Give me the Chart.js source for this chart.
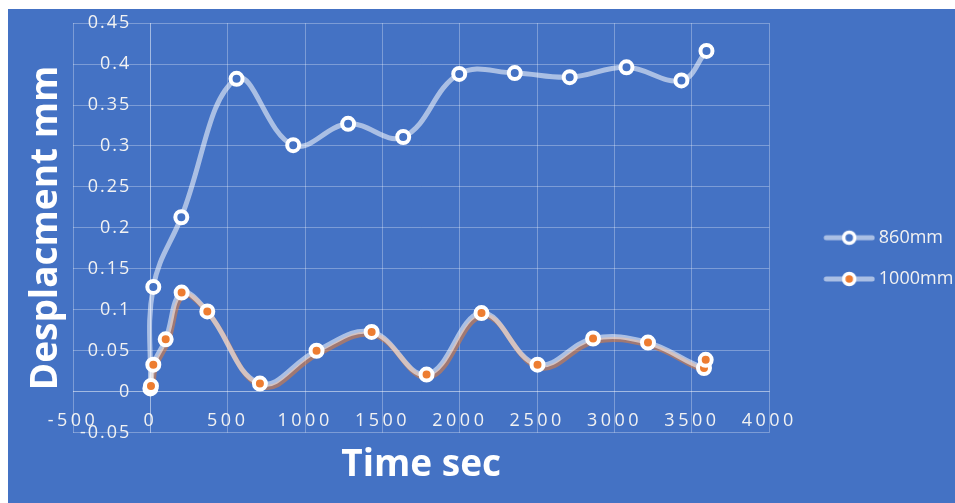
<!DOCTYPE html>
<html>
<head>
<meta charset="utf-8">
<title>Desplacment vs time</title>
<script src="https://cdn.jsdelivr.net/npm/chart.js@4/dist/chart.umd.min.js"></script>
<style>
  html, body { margin: 0; padding: 0; background: #ffffff; }
  #panel { position: absolute; left: 8px; top: 9px; width: 947px; height: 494px; background: #4472C4; }
  #panel canvas { display: block; }
</style>
</head>
<body>
<div id="panel"><canvas id="chart" width="947" height="494"></canvas></div>
<script>
// Series 860mm: time (s) and displacement (mm)
const time860 = [0, 19, 200, 557, 923, 1278, 1634, 1996, 2355, 2710, 3077, 3432, 3594];
const disp860 = [0.004, 0.128, 0.213, 0.382, 0.301, 0.327, 0.311, 0.388, 0.389, 0.384, 0.396, 0.380, 0.416];

// Series 1000mm: time (s) and displacement (mm)
const time1000 = [4, 19, 99, 202, 368, 708, 1074, 1430, 1785, 2140, 2502, 2861, 3216, 3578, 3589];
const disp1000 = [0.007, 0.033, 0.064, 0.121, 0.098, 0.010, 0.050, 0.073, 0.021, 0.096, 0.033, 0.065, 0.060, 0.029, 0.039];

// Axis ticks
const xTickValues = [-500, 0, 500, 1000, 1500, 2000, 2500, 3000, 3500, 4000];
const yTickValues = [-0.05, 0, 0.05, 0.1, 0.15, 0.2, 0.25, 0.3, 0.35, 0.4, 0.45];

const seriesNames = ['860mm', '1000mm'];
const axisTitleX = 'Time sec';
const axisTitleY = 'Desplacment mm';

const BLUE = '#4472C4';
const ORANGE = '#ED7D31';
const LINE_LIGHT = 'rgba(255,255,255,0.55)';
const LINE_SHADOW = 'rgba(237,125,49,0.55)';
const GRID = 'rgba(255,255,255,0.3)';
const TEXT = '#F2F2F2';
const TICK_FONT = { family: 'Open Sans', size: 18 };

const pts = (xs, ys) => xs.map((x, i) => ({ x, y: ys[i] }));

// Legend swatch: short line with a ringed marker
function makeSwatch(fill) {
  const c = document.createElement('canvas');
  c.width = 88; c.height = 20;
  const g = c.getContext('2d');
  g.strokeStyle = LINE_LIGHT; g.lineWidth = 5; g.lineCap = 'round';
  g.beginPath(); g.moveTo(39, 10); g.lineTo(85, 10); g.stroke();
  g.beginPath(); g.arc(62, 10, 5.5, 0, Math.PI * 2);
  g.fillStyle = fill; g.fill();
  g.lineWidth = 3.5; g.strokeStyle = '#ffffff'; g.stroke();
  return c;
}
const swatches = [makeSwatch(BLUE), makeSwatch(ORANGE)];

// Offset shadow under the 1000mm line
const offsetShadow = {
  id: 'offsetShadow',
  beforeDatasetDraw(chart, args) {
    if (chart.data.datasets[args.index].isShadow) { chart.ctx.save(); chart.ctx.translate(2, 3); }
  },
  afterDatasetDraw(chart, args) {
    if (chart.data.datasets[args.index].isShadow) chart.ctx.restore();
  }
};

// Wrap a draw method with letter spacing and an optional shift
function wrapDraw(obj, fnName, spacing, dx) {
  if (obj['_wrapped_' + fnName]) return;
  const orig = obj[fnName];
  obj[fnName] = function (...a) {
    const c = this.ctx;
    c.save();
    c.letterSpacing = spacing;
    if (dx) c.translate(dx, 0);
    const r = orig.apply(this, a);
    c.restore();
    return r;
  };
  obj['_wrapped_' + fnName] = true;
}
const textStyling = {
  id: 'textStyling',
  beforeInit(chart) { chart.ctx.letterSpacing = '2px'; },
  beforeDraw(chart) {
    wrapDraw(chart.scales.x, 'drawLabels', '3.5px', 0);
    wrapDraw(chart.scales.y, 'drawLabels', '2px', -19);
    chart.boxes.forEach(b => {
      if (b.options && typeof b.options.text === 'string') wrapDraw(b, 'draw', '0px', 0);
    });
  }
};

// Axes sit inside the plot; they need no extra edge padding
const noEdgePadding = s => { s.paddingTop = 0; s.paddingBottom = 0; s.paddingLeft = 0; s.paddingRight = 0; };

const ctx = document.getElementById('chart').getContext('2d');
new Chart(ctx, {
  type: 'scatter',
  data: {
    datasets: [
      {
        label: seriesNames[1],
        data: pts(time1000, disp1000),
        showLine: true, tension: 0.4,
        borderColor: LINE_LIGHT, borderWidth: 5,
        pointRadius: 6, pointBorderWidth: 4,
        pointBorderColor: '#ffffff', pointBackgroundColor: ORANGE,
        pointHoverRadius: 6, order: 0
      },
      {
        label: seriesNames[0],
        data: pts(time860, disp860),
        showLine: true, tension: 0.4,
        borderColor: LINE_LIGHT, borderWidth: 5,
        pointRadius: 6, pointBorderWidth: 4,
        pointBorderColor: '#ffffff', pointBackgroundColor: BLUE,
        pointHoverRadius: 6, order: 1
      },
      {
        label: '',
        isShadow: true,
        data: pts(time1000, disp1000),
        showLine: true, tension: 0.4,
        borderColor: LINE_SHADOW, borderWidth: 5,
        pointRadius: 0, pointHoverRadius: 0, order: 2
      }
    ]
  },
  options: {
    responsive: false,
    animation: false,
    layout: { padding: { left: 0, top: 14.1, right: 0, bottom: 9.4 } },
    scales: {
      x: {
        type: 'linear', min: -500, max: 4000,
        position: { y: 0 },
        afterBuildTicks: s => { s.ticks = xTickValues.map(v => ({ value: v })); },
        afterFit: noEdgePadding,
        grid: { color: GRID, lineWidth: 1, drawTicks: false },
        border: { color: GRID, width: 1 },
        ticks: {
          color: TEXT, font: TICK_FONT,
          padding: 18.5, maxRotation: 0, autoSkip: false,
          callback: v => String(v)
        }
      },
      y: {
        type: 'linear', min: -0.05, max: 0.45,
        position: { x: 0 },
        afterBuildTicks: s => { s.ticks = yTickValues.map(v => ({ value: v })); },
        afterFit: noEdgePadding,
        grid: { color: GRID, lineWidth: 1, drawTicks: false },
        border: { color: GRID, width: 1 },
        ticks: {
          color: TEXT, font: TICK_FONT,
          padding: 0, autoSkip: false,
          callback: v => String(v)
        }
      }
    },
    plugins: {
      tooltip: { enabled: false },
      title: {
        display: true, position: 'left', fullSize: false,
        text: axisTitleY, color: '#ffffff',
        font: { family: 'Open Sans', size: 37, weight: 'bold', lineHeight: 1.2 },
        padding: { top: 16, bottom: 4.6 }
      },
      subtitle: {
        display: true, position: 'bottom', fullSize: false,
        text: axisTitleX, color: '#ffffff',
        font: { family: 'Open Sans', size: 37, weight: 'bold', lineHeight: 1.2 },
        padding: { top: 10.7, bottom: 5.8 }
      },
      legend: {
        position: 'right',
        maxWidth: 185.7,
        labels: {
          color: TEXT,
          font: TICK_FONT,
          usePointStyle: true,
          pointStyleWidth: 77.2,
          padding: 23.3,
          filter: item => item.text !== '',
          sort: (a, b) => b.datasetIndex - a.datasetIndex,
          generateLabels(chart) {
            const items = Chart.defaults.plugins.legend.labels.generateLabels(chart);
            return items.map(it => Object.assign(it, {
              pointStyle: it.text === seriesNames[0] ? swatches[0] : swatches[1]
            }));
          }
        }
      }
    }
  },
  plugins: [offsetShadow, textStyling]
});
</script>
</body>
</html>
